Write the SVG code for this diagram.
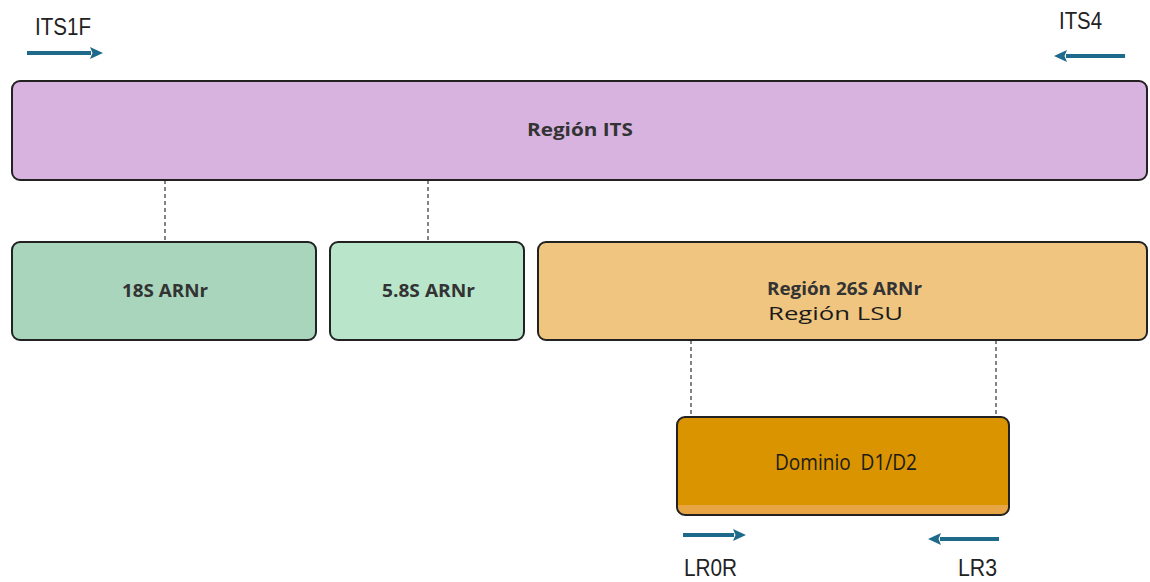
<svg xmlns="http://www.w3.org/2000/svg" width="1150" height="582" viewBox="0 0 1150 582">
  <style>
    .box { stroke: #222; stroke-width: 2; }
    .lbl { font-family: "Open Sans", "Noto Sans", sans-serif; font-weight: 700; font-size: 18px; fill: #333; text-anchor: middle; }
    .lbl2 { font-family: "Open Sans", "Noto Sans", sans-serif; font-weight: 400; fill: #1a1a1a; text-anchor: middle; }
    .primer { font-family: "Liberation Sans", Arial, sans-serif; font-size: 23px; fill: #222; }
    .dash { stroke: #333; stroke-width: 1.2; stroke-dasharray: 4 3; fill: none; }
    .arrow { stroke: #1d6a8a; stroke-width: 4; fill: none; marker-end: url(#head); }
  </style>
  <defs>
    <marker id="head" markerUnits="userSpaceOnUse" markerWidth="13" markerHeight="13" viewBox="0 0 13 13" refX="1" refY="6.5" orient="auto">
      <path d="M0,0.5 L13,6.5 L0,12.5 L2.5,6.5 z" fill="#1d6a8a"/>
    </marker>
    <clipPath id="domClip">
      <rect x="677" y="417" width="332" height="98" rx="8"/>
    </clipPath>
  </defs>

  <rect width="1150" height="582" fill="#ffffff"/>

  <!-- dashed links between regions -->
  <g id="connectors">
    <line class="dash" x1="165" y1="180" x2="165" y2="242"/>
    <line class="dash" x1="428" y1="180" x2="428" y2="242"/>
    <line class="dash" x1="691" y1="340" x2="691" y2="417"/>
    <line class="dash" x1="996" y1="340" x2="996" y2="417"/>
  </g>

  <!-- primers -->
  <g id="primer-its1f">
    <text class="primer" x="35" y="35" textLength="56" lengthAdjust="spacingAndGlyphs">ITS1F</text>
    <line class="arrow" x1="27" y1="53" x2="91" y2="53"/>
  </g>
  <g id="primer-its4">
    <text class="primer" x="1059" y="29" textLength="43" lengthAdjust="spacingAndGlyphs">ITS4</text>
    <line class="arrow" x1="1125" y1="56" x2="1066" y2="56"/>
  </g>
  <g id="primer-lr0r">
    <line class="arrow" x1="683" y1="535" x2="734" y2="535"/>
    <text class="primer" x="684" y="576" textLength="53" lengthAdjust="spacingAndGlyphs">LR0R</text>
  </g>
  <g id="primer-lr3">
    <line class="arrow" x1="999" y1="539" x2="940" y2="539"/>
    <text class="primer" x="958" y="576" textLength="39" lengthAdjust="spacingAndGlyphs">LR3</text>
  </g>

  <!-- ITS region -->
  <g id="its">
    <rect class="box" x="12" y="81" width="1135" height="99" rx="8" fill="#d8b3e0"/>
    <text class="lbl" x="580" y="136" textLength="106" lengthAdjust="spacingAndGlyphs">Región ITS</text>
  </g>

  <!-- 18S -->
  <g id="rna18s">
    <rect class="box" x="12" y="242" width="304" height="98" rx="8" fill="#a8d5bb"/>
    <text class="lbl" x="165" y="297" textLength="86" lengthAdjust="spacingAndGlyphs">18S ARNr</text>
  </g>

  <!-- 5.8S -->
  <g id="rna58s">
    <rect class="box" x="330" y="242" width="194" height="98" rx="8" fill="#b9e5cb"/>
    <text class="lbl" x="428.5" y="297" textLength="93" lengthAdjust="spacingAndGlyphs">5.8S ARNr</text>
  </g>

  <!-- 26S / LSU -->
  <g id="rna26s">
    <rect class="box" x="538" y="242" width="609" height="98" rx="8" fill="#f0c57f"/>
    <text class="lbl" x="844.5" y="295" font-size="16" textLength="155" lengthAdjust="spacingAndGlyphs">Región 26S ARNr</text>
    <text class="lbl2" x="835.5" y="320" font-size="19" textLength="135" lengthAdjust="spacingAndGlyphs">Región LSU</text>
  </g>

  <!-- D1/D2 domain -->
  <g id="d1d2">
    <rect x="677" y="417" width="332" height="98" rx="8" fill="#d99400"/>
    <rect x="677" y="505" width="332" height="12" fill="#e8a543" clip-path="url(#domClip)"/>
    <rect class="box" x="677" y="417" width="332" height="98" rx="8" fill="none"/>
    <text class="lbl2" x="846" y="470" font-size="21" textLength="142" lengthAdjust="spacingAndGlyphs" xml:space="preserve">Dominio  D1/D2</text>
  </g>
</svg>
